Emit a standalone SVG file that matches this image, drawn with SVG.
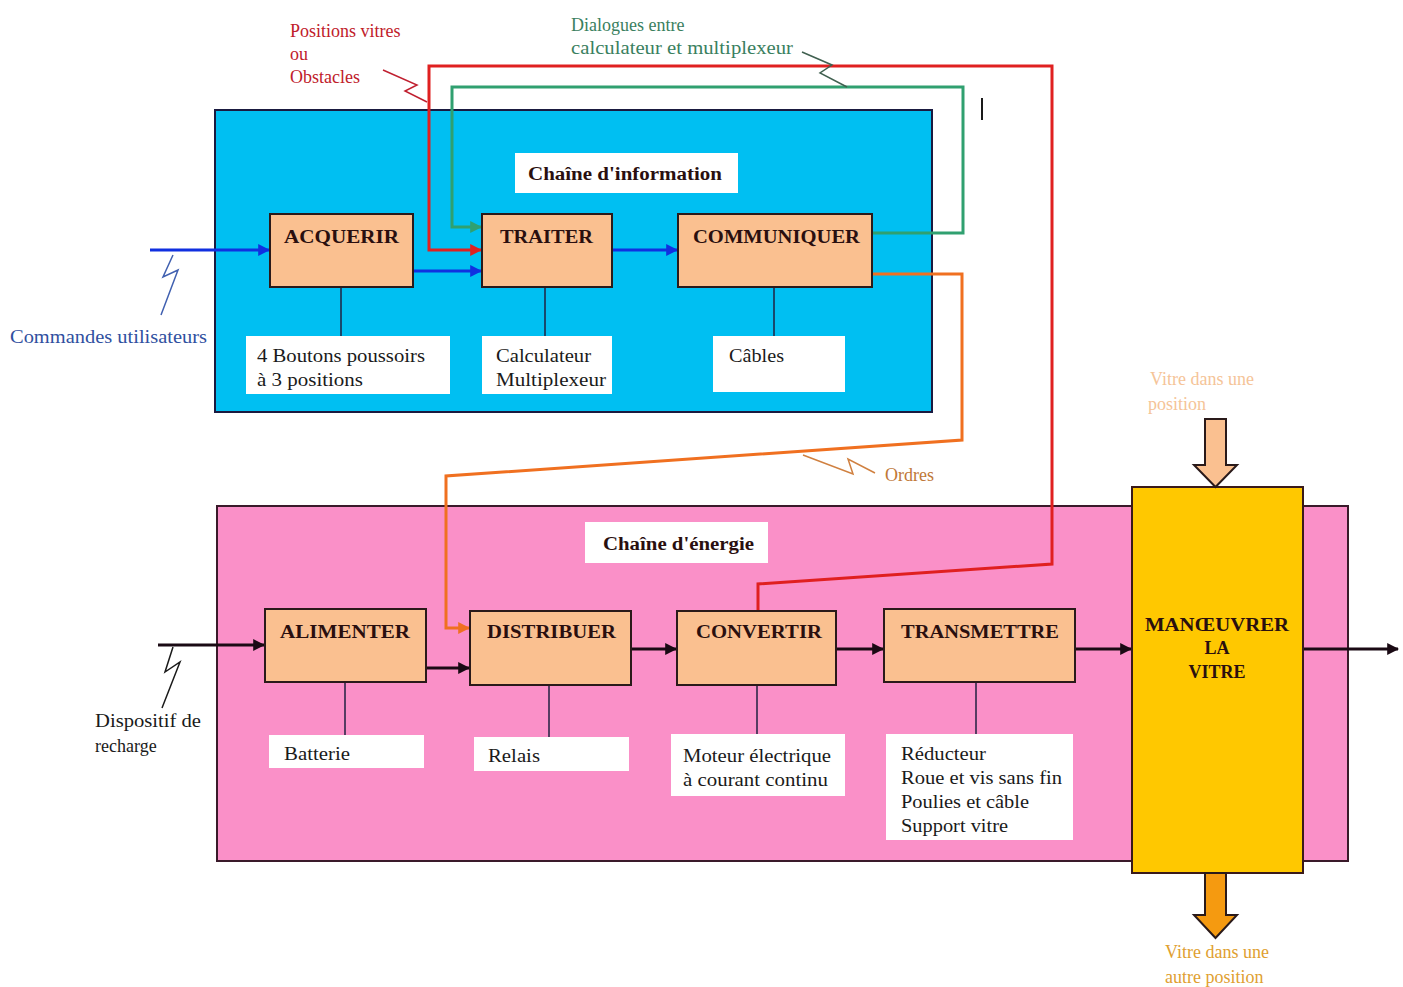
<svg xmlns="http://www.w3.org/2000/svg" width="1403" height="987" viewBox="0 0 1403 987">
<defs>
<style>
text{font-family:"Liberation Serif","Times New Roman",serif;font-size:18px;fill:#1a1a1a}
.lbl{font-weight:bold;font-size:18px;fill:#2a0f0f}
.node{fill:#FAC090;stroke:#2a1a1a;stroke-width:2}
.sub{fill:#ffffff}
.stem{stroke:#202040;stroke-width:1.5;fill:none}
.ln{fill:none;stroke-width:3}
.bolt{fill:none;stroke-width:1.5}
</style>
<marker id="aBlue" viewBox="0 0 10 10" refX="9" refY="5" markerWidth="4" markerHeight="4" orient="auto"><path d="M0,0L10,5L0,10z" fill="#1030E0"/></marker>
<marker id="aRed" viewBox="0 0 10 10" refX="9" refY="5" markerWidth="4" markerHeight="4" orient="auto"><path d="M0,0L10,5L0,10z" fill="#E02020"/></marker>
<marker id="aGreen" viewBox="0 0 10 10" refX="9" refY="5" markerWidth="4" markerHeight="4" orient="auto"><path d="M0,0L10,5L0,10z" fill="#30A070"/></marker>
<marker id="aOrange" viewBox="0 0 10 10" refX="9" refY="5" markerWidth="4" markerHeight="4" orient="auto"><path d="M0,0L10,5L0,10z" fill="#F07020"/></marker>
<marker id="aBlack" viewBox="0 0 10 10" refX="9" refY="5" markerWidth="4" markerHeight="4" orient="auto"><path d="M0,0L10,5L0,10z" fill="#1a0a14"/></marker>
</defs>
<rect width="1403" height="987" fill="#ffffff"/>

<!-- containers -->
<g id="chaine-information">
<rect x="215" y="110" width="717" height="302" fill="#00BFF2" stroke="#1a1a40" stroke-width="2"/>
<rect x="515" y="153" width="223" height="40" fill="#ffffff"/>
<text x="528" y="180" class="lbl" textLength="194" lengthAdjust="spacingAndGlyphs">Chaîne d'information</text>
</g>
<g id="chaine-energie">
<rect x="217" y="506" width="1131" height="355" fill="#FA90C8" stroke="#3a1a2a" stroke-width="2"/>
<rect x="585" y="522" width="183" height="41" fill="#ffffff"/>
<text x="603" y="550" class="lbl" textLength="151" lengthAdjust="spacingAndGlyphs">Chaîne d'énergie</text>
</g>

<!-- connectors -->
<g id="connectors">
<line x1="341" y1="287" x2="341" y2="336" class="stem"/>
<line x1="545" y1="287" x2="545" y2="336" class="stem"/>
<line x1="774" y1="287" x2="774" y2="336" class="stem"/>
<line x1="345" y1="682" x2="345" y2="735" class="stem"/>
<line x1="549" y1="685" x2="549" y2="737" class="stem"/>
<line x1="757" y1="685" x2="757" y2="734" class="stem"/>
<line x1="976" y1="682" x2="976" y2="734" class="stem"/>

<line x1="150" y1="250" x2="269" y2="250" class="ln" stroke="#1030E0" marker-end="url(#aBlue)"/>
<line x1="413" y1="271" x2="481" y2="271" class="ln" stroke="#1030E0" marker-end="url(#aBlue)"/>
<line x1="612" y1="250" x2="677" y2="250" class="ln" stroke="#1030E0" marker-end="url(#aBlue)"/>
<polyline points="173,255 163,277 178,270 161,315" class="bolt" stroke="#4060B0"/>

<polyline points="758,611 758,584 1052,564 1052,66 429,66 429,250 481,250" class="ln" stroke="#E02020" marker-end="url(#aRed)"/>
<polyline points="383,70 417,85 405,91 427,102" class="bolt" stroke="#C02030"/>

<polyline points="872,233 963,233 963,87 452,87 452,227 481,227" class="ln" stroke="#30A070" marker-end="url(#aGreen)"/>
<polyline points="802,52 832,65 820,73 847,87" class="bolt" stroke="#406050"/>

<polyline points="872,274 962,274 962,440 446,476 446,628 469,628" class="ln" stroke="#F07020" marker-end="url(#aOrange)"/>
<polyline points="803,455 853,474 848,459 875,473" class="bolt" stroke="#D08040"/>

<line x1="158" y1="645" x2="264" y2="645" class="ln" stroke="#1a0a14" marker-end="url(#aBlack)"/>
<polyline points="173,647 165,672 180,662 162,708" class="bolt" stroke="#1a1a1a"/>
<line x1="426" y1="668" x2="469" y2="668" class="ln" stroke="#1a0a14" marker-end="url(#aBlack)"/>
<line x1="631" y1="649" x2="676" y2="649" class="ln" stroke="#1a0a14" marker-end="url(#aBlack)"/>
<line x1="836" y1="649" x2="883" y2="649" class="ln" stroke="#1a0a14" marker-end="url(#aBlack)"/>
<line x1="1075" y1="649" x2="1131" y2="649" class="ln" stroke="#1a0a14" marker-end="url(#aBlack)"/>
<line x1="1303" y1="649" x2="1398" y2="649" class="ln" stroke="#1a0a14" marker-end="url(#aBlack)"/>

<line x1="982" y1="98" x2="982" y2="120" stroke="#1a1a1a" stroke-width="2"/>
</g>

<!-- info chain nodes -->
<g id="acquerir">
<rect x="270" y="214" width="143" height="73" class="node"/>
<text x="284" y="243" class="lbl" textLength="115" lengthAdjust="spacingAndGlyphs">ACQUERIR</text>
</g>
<g id="traiter">
<rect x="482" y="214" width="130" height="73" class="node"/>
<text x="500" y="243" class="lbl" textLength="93" lengthAdjust="spacingAndGlyphs">TRAITER</text>
</g>
<g id="communiquer">
<rect x="678" y="214" width="194" height="73" class="node"/>
<text x="693" y="243" class="lbl" textLength="167" lengthAdjust="spacingAndGlyphs">COMMUNIQUER</text>
</g>
<g id="boutons">
<rect x="246" y="336" width="204" height="58" class="sub"/>
<text x="257" y="362" textLength="168" lengthAdjust="spacingAndGlyphs">4 Boutons poussoirs</text>
<text x="257" y="386" textLength="106" lengthAdjust="spacingAndGlyphs">à 3 positions</text>
</g>
<g id="calculateur">
<rect x="482" y="336" width="130" height="58" class="sub"/>
<text x="496" y="362" textLength="95" lengthAdjust="spacingAndGlyphs">Calculateur</text>
<text x="496" y="386" textLength="110" lengthAdjust="spacingAndGlyphs">Multiplexeur</text>
</g>
<g id="cables">
<rect x="713" y="336" width="132" height="56" class="sub"/>
<text x="729" y="362" textLength="55" lengthAdjust="spacingAndGlyphs">Câbles</text>
</g>

<!-- energy chain nodes -->
<g id="alimenter">
<rect x="265" y="609" width="161" height="73" class="node"/>
<text x="280" y="638" class="lbl" textLength="130" lengthAdjust="spacingAndGlyphs">ALIMENTER</text>
</g>
<g id="distribuer">
<rect x="470" y="611" width="161" height="74" class="node"/>
<text x="487" y="638" class="lbl" textLength="129" lengthAdjust="spacingAndGlyphs">DISTRIBUER</text>
</g>
<g id="convertir">
<rect x="677" y="611" width="159" height="74" class="node"/>
<text x="696" y="638" class="lbl" textLength="126" lengthAdjust="spacingAndGlyphs">CONVERTIR</text>
</g>
<g id="transmettre">
<rect x="884" y="609" width="191" height="73" class="node"/>
<text x="901" y="638" class="lbl" textLength="158" lengthAdjust="spacingAndGlyphs">TRANSMETTRE</text>
</g>
<g id="batterie">
<rect x="269" y="735" width="155" height="33" class="sub"/>
<text x="284" y="760" textLength="66" lengthAdjust="spacingAndGlyphs">Batterie</text>
</g>
<g id="relais">
<rect x="474" y="737" width="155" height="34" class="sub"/>
<text x="488" y="762" textLength="52" lengthAdjust="spacingAndGlyphs">Relais</text>
</g>
<g id="moteur">
<rect x="671" y="734" width="174" height="62" class="sub"/>
<text x="683" y="762" textLength="148" lengthAdjust="spacingAndGlyphs">Moteur électrique</text>
<text x="683" y="786" textLength="145" lengthAdjust="spacingAndGlyphs">à courant continu</text>
</g>
<g id="reducteur">
<rect x="886" y="734" width="187" height="106" class="sub"/>
<text x="901" y="760" textLength="85" lengthAdjust="spacingAndGlyphs">Réducteur</text>
<text x="901" y="784" textLength="161" lengthAdjust="spacingAndGlyphs">Roue et vis sans fin</text>
<text x="901" y="808" textLength="128" lengthAdjust="spacingAndGlyphs">Poulies et câble</text>
<text x="901" y="832" textLength="107" lengthAdjust="spacingAndGlyphs">Support vitre</text>
</g>

<g id="manoeuvrer">
<rect x="1132" y="487" width="171" height="386" fill="#FFC800" stroke="#3a1a1a" stroke-width="2"/>
<text x="1217" y="631" class="lbl" text-anchor="middle" textLength="144" lengthAdjust="spacingAndGlyphs">MANŒUVRER</text>
<text x="1217" y="654" class="lbl" text-anchor="middle">LA</text>
<text x="1217" y="678" class="lbl" text-anchor="middle">VITRE</text>
</g>

<g id="vitre-entree">
<path d="M1205,419 H1226 V465 H1237 L1215.5,487 L1194,465 H1205 Z" fill="#FAC090" stroke="#2a1a1a" stroke-width="2"/>
<text x="1150" y="385" fill="#F5C498" style="fill:#F5C498">Vitre dans une</text>
<text x="1148" y="410" style="fill:#F5C498">position</text>
</g>
<g id="vitre-sortie">
<path d="M1205,873 H1226 V915 H1237 L1215.5,938 L1194,915 H1205 Z" fill="#F59A10" stroke="#2a1a1a" stroke-width="2"/>
<text x="1165" y="958" style="fill:#E0A030">Vitre dans une</text>
<text x="1165" y="983" style="fill:#E0A030">autre position</text>
</g>

<!-- free labels -->
<g id="labels">
<text x="290" y="37" style="fill:#C0202A">Positions vitres</text>
<text x="290" y="60" style="fill:#C0202A">ou</text>
<text x="290" y="83" style="fill:#C0202A">Obstacles</text>
<text x="571" y="31" style="fill:#3A8060">Dialogues entre</text>
<text x="571" y="54" style="fill:#3A8060" textLength="222" lengthAdjust="spacingAndGlyphs">calculateur et multiplexeur</text>
<text x="10" y="343" style="fill:#3050A0" textLength="197" lengthAdjust="spacingAndGlyphs">Commandes utilisateurs</text>
<text x="885" y="481" style="fill:#C07838">Ordres</text>
<text x="95" y="727" textLength="106" lengthAdjust="spacingAndGlyphs">Dispositif de</text>
<text x="95" y="752">recharge</text>
</g>
</svg>
